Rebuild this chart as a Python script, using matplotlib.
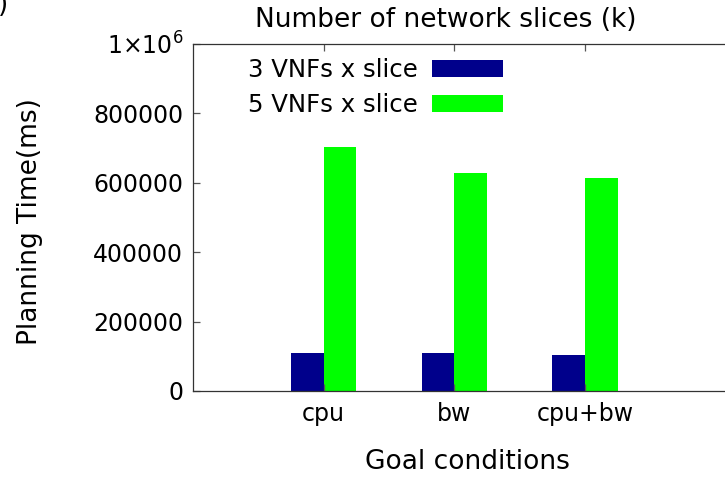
import matplotlib
matplotlib.use("Agg")
import matplotlib.pyplot as plt
import numpy as np

categories = ["cpu", "bw", "cpu+bw"]
vnf3 = [108500, 108500, 103600]
vnf5 = [703000, 628000, 615000]
series_labels = ["3 VNFs x slice", "5 VNFs x slice"]
y_ticks = [0, 200000, 400000, 600000, 800000, 1000000]
y_ticklabels = ["0", "200000", "400000", "600000", "800000", r"$\mathregular{1{\times}10^{6}}$"]

plt.rcParams['font.family'] = ['DejaVu Sans']
plt.rcParams['mathtext.fontset'] = 'dejavusans'

W, H = 725, 478
fig = plt.figure(figsize=(W / 100, H / 100), dpi=100)
left_px, top_px, bottom_px = 193, 44, 391
unit_px = 130.7
xmax = 4.3
ax = fig.add_axes([left_px / W, (H - bottom_px) / H, xmax * unit_px / W, (bottom_px - top_px) / H])

x = np.arange(1, len(categories) + 1)
bw = 0.25
ax.bar(x - bw / 2, vnf3, width=bw, color="#00008b", edgecolor="none", label=series_labels[0])
ax.bar(x + bw / 2, vnf5, width=bw, color="#00ff00", edgecolor="none", label=series_labels[1])

ax.set_xlim(0, xmax)
ax.set_ylim(0, 1000000)
ax.set_yticks(y_ticks)
ax.set_yticklabels(y_ticklabels)
ax.set_xticks(x)
ax.set_xticklabels(categories)

fs = 17
lfs = 19
spine_c = "#333333"
for s in ["left", "bottom", "top"]:
    ax.spines[s].set_color(spine_c)
    ax.spines[s].set_linewidth(0.9)
ax.spines["right"].set_visible(False)
ax.tick_params(axis="y", direction="in", length=5, width=0.9, color="#555555",
               labelsize=fs, pad=7, right=False)
ax.tick_params(axis="x", direction="in", length=5, width=0.9, color="#555555",
               labelsize=fs, pad=8, top=True)

leg = ax.legend(loc="upper left", bbox_to_anchor=((237 - left_px) / (xmax * unit_px), 0.99),
                frameon=False, markerfirst=False, fontsize=17.6,
                handlelength=2.9, handleheight=0.7, handletextpad=0.6,
                labelspacing=0.42, borderaxespad=0.25, borderpad=0.2)

fig.text(446 / W, 1 - 20 / H, "Number of network slices (k)", ha="center", va="center", fontsize=lfs)
fig.text(467 / W, 1 - 462 / H, "Goal conditions", ha="center", va="center", fontsize=lfs)
fig.text(30 / W, 1 - 222 / H, "Planning Time(ms)", ha="center", va="center", rotation=90, fontsize=lfs)
fig.text(9 / W, 1 - 12 / H, "(b)", ha="right", va="baseline", fontsize=lfs)

fig.savefig("out.png", dpi=100)
